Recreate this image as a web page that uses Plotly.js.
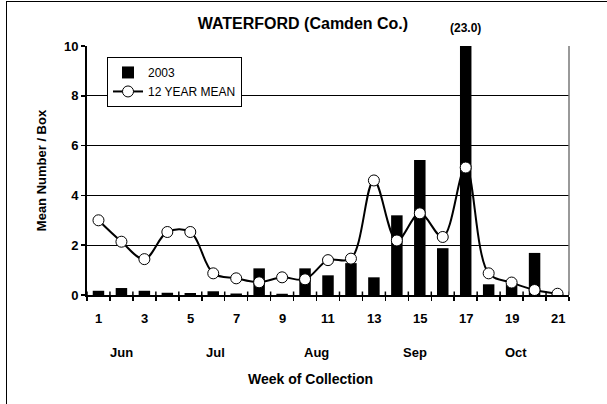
<!DOCTYPE html>
<html>
<head>
<meta charset="utf-8">
<script src="https://cdn.plot.ly/plotly-3.0.1.min.js"></script>
<style>
  html, body { margin: 0; padding: 0; background: #fff; }
  #wrap { position: relative; width: 607px; height: 404px; }
  #chart { position: absolute; left: 0; top: 0; width: 607px; height: 404px; }
  #frame { position: absolute; left: 6px; top: 1px; width: 620px; height: 420px;
           border-left: 1.5px solid #000; border-top: 1.5px solid #000; pointer-events: none; }
</style>
</head>
<body>
<div id="wrap"><div id="chart"></div><div id="frame"></div></div>
<script>
// ---- data ----
const weeks = [1,2,3,4,5,6,7,8,9,10,11,12,13,14,15,16,17,18,19,20,21];
const values2003 = [0.17,0.28,0.17,0.09,0.08,0.15,0.06,1.07,0.05,1.07,0.79,1.28,0.71,3.2,5.42,1.88,23.0,0.43,0.45,1.69,0.05];
const mean12yr = [3.0,2.14,1.44,2.53,2.53,0.87,0.67,0.51,0.71,0.63,1.4,1.46,4.6,2.19,3.28,2.33,5.12,0.87,0.5,0.2,0.05];
const weekTickVals = [1,3,5,7,9,11,13,15,17,19,21];
const weekTickText = ["1","3","5","7","9","11","13","15","17","19","21"];
const months = ["Jun","Jul","Aug","Sep","Oct"];
const monthPos = [2.0, 6.1, 10.5, 14.8, 19.2];
const yTickVals = [0,2,4,6,8,10];

const FONT = "Arial, 'Liberation Sans', sans-serif";
const boundaries = [];
for (let i = 0; i < weeks.length + 1; i++) boundaries.push(weeks[0] - 0.5 + i);

const yMax = 10;
const xRange = [weeks[0] - 0.5, weeks[weeks.length - 1] + 0.5];
// off-scale bar label
const offScale = [];
values2003.forEach((v, i) => { if (v > yMax) offScale.push({x: weeks[i], text: '(' + v.toFixed(1) + ')'}); });

const traces = [
  {
    type: 'bar', name: '2003', x: weeks, y: values2003,
    marker: {color: '#000', line: {width: 0}}, width: 0.5
  },
  {
    type: 'scatter', mode: 'lines+markers', name: '12 YEAR MEAN', x: weeks, y: mean12yr,
    line: {color: '#000', width: 2, shape: 'spline', smoothing: 1},
    marker: {symbol: 'circle', size: 11, color: '#fff', line: {color: '#000', width: 1}}
  }
];

const boldFont = (s) => ({family: FONT, size: s, color: '#000', weight: 'bold'});

// week labels (odd weeks) under the axis
const annotations = weekTickVals.map((w, i) => ({
  text: weekTickText[i], x: w, xref: 'x', y: -0.093, yref: 'paper',
  showarrow: false, xanchor: 'center', yanchor: 'middle', font: boldFont(13)
}));
months.forEach((m, i) => annotations.push({
  text: m, x: monthPos[i], xref: 'x', y: -0.229, yref: 'paper',
  showarrow: false, xanchor: 'center', yanchor: 'middle', font: boldFont(13)
}));
annotations.push({
  text: 'Week of Collection', x: 0.463, xref: 'paper', y: -0.337, yref: 'paper',
  showarrow: false, xanchor: 'center', yanchor: 'middle', font: boldFont(14)
});
offScale.forEach(o => annotations.push({
  text: o.text, x: o.x, xref: 'x', y: 1.072, yref: 'paper',
  showarrow: false, xanchor: 'center', yanchor: 'middle', font: boldFont(12)
}));

// inner half of the crossing tick marks on the week axis
const shapes = boundaries.map(b => ({
  type: 'line', xref: 'x', yref: 'paper', x0: b, x1: b, y0: 0, y1: 0.014,
  line: {color: '#000', width: 1.5}, layer: 'above'
}));
// grey right frame
shapes.push({type: 'line', xref: 'paper', yref: 'paper', x0: 1, x1: 1, y0: 0, y1: 1,
             line: {color: '#777', width: 1.5}});

const layout = {
  width: 607, height: 404,
  margin: {l: 87, r: 38, t: 46, b: 109},
  paper_bgcolor: 'rgba(0,0,0,0)', plot_bgcolor: '#fff',
  showlegend: true, bargap: 0.5,
  title: {
    text: 'WATERFORD (Camden Co.)', xref: 'paper', x: 0.448, xanchor: 'center',
    yref: 'container', y: 1 - 23/404, yanchor: 'middle', font: boldFont(16)
  },
  xaxis: {
    range: xRange, tickmode: 'array', tickvals: boundaries, showticklabels: false,
    ticks: 'outside', ticklen: 4, tickwidth: 1.5, tickcolor: '#000',
    showgrid: false, zeroline: false, showline: true, linecolor: '#000', linewidth: 2,
    fixedrange: true
  },
  yaxis: {
    range: [0, yMax], tickmode: 'array', tickvals: yTickVals,
    ticks: 'outside', ticklen: 4, tickwidth: 1.5, tickcolor: '#000',
    showgrid: true, gridcolor: '#000', gridwidth: 1, zeroline: false,
    showline: true, linecolor: '#000', linewidth: 2,
    tickfont: boldFont(13),
    title: {text: 'Mean Number / Box', standoff: 14, font: boldFont(13)},
    fixedrange: true
  },
  legend: {
    x: 0.0415, y: 0.956, xanchor: 'left', yanchor: 'top',
    bgcolor: '#fff', bordercolor: '#000', borderwidth: 1,
    font: {family: FONT, size: 12, color: '#000'}, tracegroupgap: 0
  },
  shapes: shapes,
  annotations: annotations
};

Plotly.newPlot('chart', traces, layout, {displayModeBar: false, staticPlot: true});
</script>
</body>
</html>
